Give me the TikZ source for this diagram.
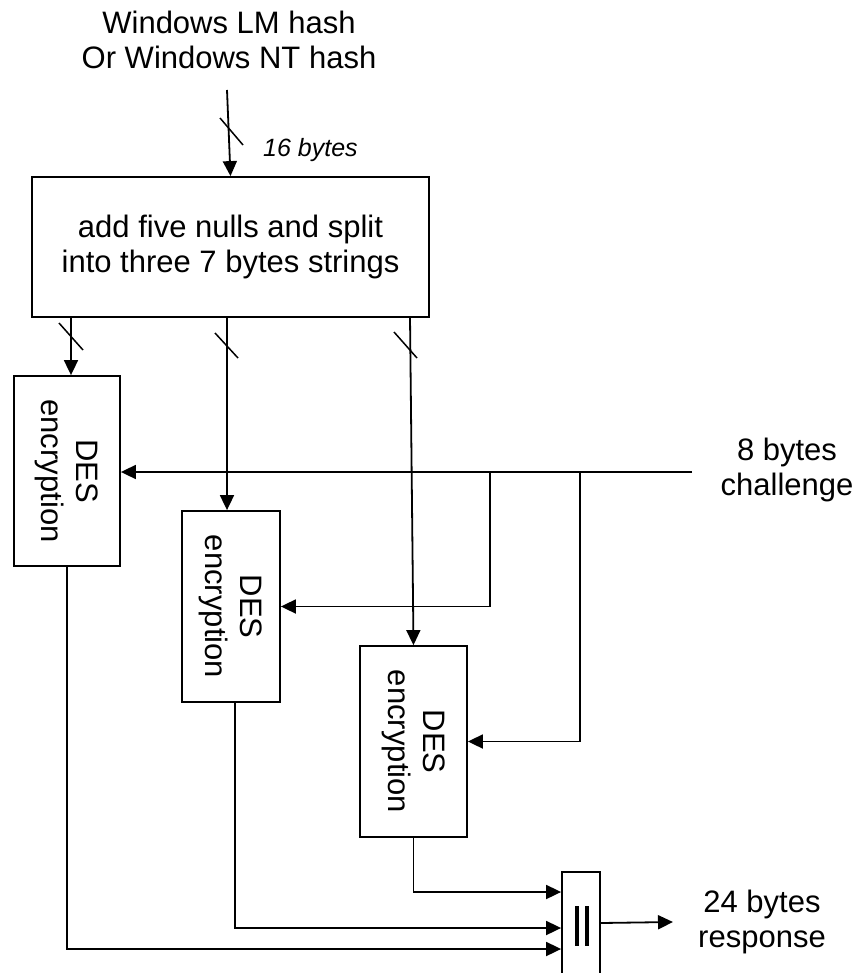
\documentclass[tikz,border=0pt]{standalone}
\usepackage{fontspec}
\setmainfont{Liberation Sans}
\usetikzlibrary{arrows.meta}
\begin{document}
\begin{tikzpicture}[x=1pt,y=-1pt,
  ln/.style={line width=1.8pt},
  arr/.style={ln,-{Triangle[length=15pt,width=14pt]}},
  boxx/.style={draw,line width=1.8pt,inner sep=0pt,fill=white},
  lbl/.style={font=\fontsize{31}{35}\selectfont,align=center,inner sep=0pt},
  small/.style={font=\fontsize{25}{30}\selectfont\itshape,inner sep=0pt},
  slash/.style={line width=1.5pt}]
\useasboundingbox (0,0) rectangle (857,973);
% text nodes
\node[lbl] (src) at (229,40) {Windows LM hash\\Or Windows NT hash};
\node[small,anchor=west] (sixteen) at (263,150) {16 bytes};
\node[lbl] (chal) at (787,470) {8 bytes\\challenge};
\node[lbl] (resp) at (762,922) {24 bytes\\response};
% boxes
\node[boxx,minimum width=397pt,minimum height=140pt] (box1) at (230.5,247) {};
\node[lbl] (box1t) at (box1.center) {add five nulls and split\\into three 7 bytes strings};
\node[boxx,minimum width=106pt,minimum height=190pt] (des1) at (67,471) {};
\node[lbl,rotate=-90] (des1t) at (des1.center) {DES\\encryption};
\node[boxx,minimum width=98pt,minimum height=191pt] (des2) at (231,606.5) {};
\node[lbl,rotate=-90] (des2t) at (des2.center) {DES\\encryption};
\node[boxx,minimum width=107pt,minimum height=191pt] (des3) at (413.5,741.5) {};
\node[lbl,rotate=-90] (des3t) at (des3.center) {DES\\encryption};
\node[boxx,minimum width=38pt,minimum height=102pt] (cat) at (581,923) {};
\draw[line width=4pt] (577,906) -- (577,946);
\draw[line width=4pt] (587,906) -- (587,946);
% coordinates
\coordinate (in) at (227,90);
\coordinate (o1) at (71,317);
\coordinate (o2) at (227,317);
\coordinate (o3) at (410,317);
\coordinate (ch) at (692,472);
\coordinate (b1) at (490,472);
\coordinate (b2) at (580,472);
\coordinate (y1) at (0,949);
\coordinate (y2) at (0,928);
\coordinate (y3) at (0,892);
\coordinate (out) at (673,922);
% input
\draw[arr] (in) -- (box1.north);
\draw[slash] (220,118) -- (243,145);
% splits
\draw[arr] (o1) -- (o1 |- des1.north);
\draw[slash] (59,323) -- (83,350);
\draw[arr] (o2) -- (o2 |- des2.north);
\draw[slash] (215,333) -- (238,358);
\draw[arr] (o3) -- (des3.north);
\draw[slash] (394,332) -- (417,358);
% challenge
\draw[arr] (ch) -- (ch -| des1.east);
\draw[arr] (b1) |- (des2.east);
\draw[arr] (b2) |- (des3.east);
% outputs
\draw[arr] (des1.south) |- (cat.west |- y1);
\draw[arr] ([xshift=4pt]des2.south) |- (cat.west |- y2);
\draw[arr] (des3.south) |- (cat.west |- y3);
\draw[arr] (cat.east) -- (out);
\end{tikzpicture}
\end{document}
